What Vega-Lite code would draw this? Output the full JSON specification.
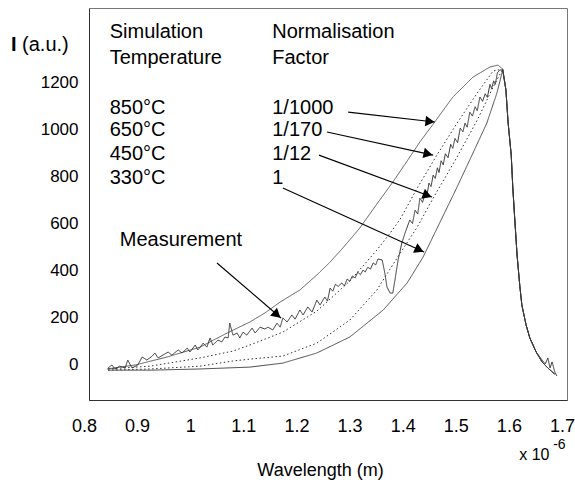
{
  "$schema": "https://vega.github.io/schema/vega-lite/v6.json",
  "width": 478,
  "height": 392,
  "autosize": {"type": "none"},
  "padding": {"left": 89, "top": 8, "right": 8, "bottom": 80},
  "background": "white",
  "config": {"view": {"stroke": "#777", "strokeWidth": 1}, "font": "Liberation Sans"},
  "encoding": {
    "x": {"field": "x", "type": "quantitative",
      "scale": {"domain": [0.8, 1.7], "nice": false, "zero": false},
      "axis": {"values": [0.8, 0.9, 1, 1.1, 1.2, 1.3, 1.4, 1.5, 1.6, 1.7], "format": "~g", "labelOffset": -5,
        "ticks": false, "grid": false, "domainColor": "#333", "labelFontSize": 18, "labelColor": "#000",
        "labelPadding": 17, "labelFlush": false, "labelOverlap": false, "labelBound": false,
        "title": "Wavelength (m)", "titleFontSize": 18, "titleFontWeight": "normal", "titleColor": "#000",
        "titleX": 231, "titleY": 75, "titleBaseline": "alphabetic", "titleAlign": "center"}},
    "y": {"field": "y", "type": "quantitative",
      "scale": {"domain": [-153, 1515], "nice": false, "zero": false},
      "axis": {"values": [0, 200, 400, 600, 800, 1000, 1200], "format": "d", "ticks": false, "grid": false,
        "domainColor": "#333", "labelFontSize": 17, "labelPadding": 11, "labelColor": "#000",
        "labelFlush": false, "labelOverlap": false, "title": null}}
  },
  "layer": [
    {
      "data": {"values": [
        {"s":"850°C","x":0.834,"y":-21},{"s":"850°C","x":0.858,"y":-13},{"s":"850°C","x":0.887,"y":-4},{"s":"850°C","x":0.947,"y":30},{"s":"850°C","x":1.009,"y":72},{"s":"850°C","x":1.060,"y":132},{"s":"850°C","x":1.103,"y":179},{"s":"850°C","x":1.131,"y":217},{"s":"850°C","x":1.160,"y":264},{"s":"850°C","x":1.197,"y":315},{"s":"850°C","x":1.229,"y":379},{"s":"850°C","x":1.254,"y":434},{"s":"850°C","x":1.278,"y":494},{"s":"850°C","x":1.310,"y":579},{"s":"850°C","x":1.342,"y":681},{"s":"850°C","x":1.372,"y":774},{"s":"850°C","x":1.399,"y":864},{"s":"850°C","x":1.423,"y":945},{"s":"850°C","x":1.451,"y":1030},{"s":"850°C","x":1.485,"y":1136},{"s":"850°C","x":1.523,"y":1221},{"s":"850°C","x":1.555,"y":1264},{"s":"850°C","x":1.570,"y":1272},{"s":"850°C","x":1.579,"y":1255},
        {"s":"850°C","x":1.585,"y":1166},{"s":"850°C","x":1.589,"y":1030},{"s":"850°C","x":1.595,"y":889},{"s":"850°C","x":1.598,"y":749},{"s":"850°C","x":1.602,"y":604},{"s":"850°C","x":1.606,"y":464},{"s":"850°C","x":1.611,"y":336},{"s":"850°C","x":1.615,"y":251},{"s":"850°C","x":1.623,"y":166},{"s":"850°C","x":1.630,"y":111},{"s":"850°C","x":1.642,"y":51},{"s":"850°C","x":1.653,"y":9},{"s":"850°C","x":1.664,"y":-17},{"s":"850°C","x":1.677,"y":-43},

        {"s":"650°C","x":0.836,"y":-21},{"s":"650°C","x":0.915,"y":-9},{"s":"650°C","x":1.009,"y":26},{"s":"650°C","x":1.071,"y":55},{"s":"650°C","x":1.103,"y":81},{"s":"650°C","x":1.165,"y":136},{"s":"650°C","x":1.229,"y":225},{"s":"650°C","x":1.291,"y":353},{"s":"650°C","x":1.342,"y":485},{"s":"650°C","x":1.367,"y":557},{"s":"650°C","x":1.386,"y":617},{"s":"650°C","x":1.418,"y":749},{"s":"650°C","x":1.455,"y":889},{"s":"650°C","x":1.493,"y":1025},{"s":"650°C","x":1.531,"y":1153},{"s":"650°C","x":1.561,"y":1247},{"s":"650°C","x":1.579,"y":1255},
        {"s":"650°C","x":1.585,"y":1166},{"s":"650°C","x":1.589,"y":1030},{"s":"650°C","x":1.595,"y":889},{"s":"650°C","x":1.598,"y":749},{"s":"650°C","x":1.602,"y":604},{"s":"650°C","x":1.606,"y":464},{"s":"650°C","x":1.611,"y":336},{"s":"650°C","x":1.615,"y":251},{"s":"650°C","x":1.623,"y":166},{"s":"650°C","x":1.630,"y":111},{"s":"650°C","x":1.642,"y":51},{"s":"650°C","x":1.653,"y":9},{"s":"650°C","x":1.664,"y":-17},{"s":"650°C","x":1.677,"y":-43},

        {"s":"450°C","x":0.836,"y":-26},{"s":"450°C","x":0.915,"y":-21},{"s":"450°C","x":1.009,"y":-9},{"s":"450°C","x":1.071,"y":13},{"s":"450°C","x":1.103,"y":21},{"s":"450°C","x":1.165,"y":34},{"s":"450°C","x":1.229,"y":89},{"s":"450°C","x":1.291,"y":187},{"s":"450°C","x":1.342,"y":315},{"s":"450°C","x":1.380,"y":451},{"s":"450°C","x":1.418,"y":583},{"s":"450°C","x":1.448,"y":706},{"s":"450°C","x":1.493,"y":881},{"s":"450°C","x":1.531,"y":1038},{"s":"450°C","x":1.561,"y":1179},{"s":"450°C","x":1.579,"y":1255},
        {"s":"450°C","x":1.585,"y":1166},{"s":"450°C","x":1.589,"y":1030},{"s":"450°C","x":1.595,"y":889},{"s":"450°C","x":1.598,"y":749},{"s":"450°C","x":1.602,"y":604},{"s":"450°C","x":1.606,"y":464},{"s":"450°C","x":1.611,"y":336},{"s":"450°C","x":1.615,"y":251},{"s":"450°C","x":1.623,"y":166},{"s":"450°C","x":1.630,"y":111},{"s":"450°C","x":1.642,"y":51},{"s":"450°C","x":1.653,"y":9},{"s":"450°C","x":1.664,"y":-17},{"s":"450°C","x":1.677,"y":-43},

        {"s":"330°C","x":0.836,"y":-26},{"s":"330°C","x":0.915,"y":-26},{"s":"330°C","x":1.009,"y":-21},{"s":"330°C","x":1.103,"y":-13},{"s":"330°C","x":1.165,"y":4},{"s":"330°C","x":1.229,"y":47},{"s":"330°C","x":1.291,"y":115},{"s":"330°C","x":1.354,"y":230},{"s":"330°C","x":1.399,"y":345},{"s":"330°C","x":1.429,"y":455},{"s":"330°C","x":1.461,"y":604},{"s":"330°C","x":1.493,"y":753},{"s":"330°C","x":1.523,"y":898},{"s":"330°C","x":1.549,"y":1025},{"s":"330°C","x":1.568,"y":1153},{"s":"330°C","x":1.579,"y":1251},
        {"s":"330°C","x":1.585,"y":1166},{"s":"330°C","x":1.589,"y":1030},{"s":"330°C","x":1.595,"y":889},{"s":"330°C","x":1.598,"y":749},{"s":"330°C","x":1.602,"y":604},{"s":"330°C","x":1.606,"y":464},{"s":"330°C","x":1.611,"y":336},{"s":"330°C","x":1.615,"y":251},{"s":"330°C","x":1.623,"y":166},{"s":"330°C","x":1.630,"y":111},{"s":"330°C","x":1.642,"y":51},{"s":"330°C","x":1.653,"y":9},{"s":"330°C","x":1.664,"y":-17},{"s":"330°C","x":1.677,"y":-43},

        {"s":"Measurement","x":0.836,"y":-17},{"s":"Measurement","x":0.843,"y":-4},{"s":"Measurement","x":0.849,"y":-21},{"s":"Measurement","x":0.858,"y":-9},{"s":"Measurement","x":0.868,"y":-17},{"s":"Measurement","x":0.873,"y":17},{"s":"Measurement","x":0.881,"y":-17},{"s":"Measurement","x":0.892,"y":-4},{"s":"Measurement","x":0.900,"y":30},{"s":"Measurement","x":0.909,"y":17},{"s":"Measurement","x":0.919,"y":34},{"s":"Measurement","x":0.924,"y":47},{"s":"Measurement","x":0.930,"y":26},{"s":"Measurement","x":0.939,"y":38},{"s":"Measurement","x":0.949,"y":51},{"s":"Measurement","x":0.956,"y":38},{"s":"Measurement","x":0.968,"y":60},{"s":"Measurement","x":0.975,"y":47},{"s":"Measurement","x":0.985,"y":68},{"s":"Measurement","x":0.990,"y":51},{"s":"Measurement","x":1.000,"y":81},{"s":"Measurement","x":1.005,"y":60},{"s":"Measurement","x":1.015,"y":89},{"s":"Measurement","x":1.022,"y":72},{"s":"Measurement","x":1.028,"y":111},{"s":"Measurement","x":1.033,"y":81},{"s":"Measurement","x":1.043,"y":102},{"s":"Measurement","x":1.050,"y":94},{"s":"Measurement","x":1.056,"y":115},{"s":"Measurement","x":1.062,"y":111},{"s":"Measurement","x":1.065,"y":174},{"s":"Measurement","x":1.071,"y":123},{"s":"Measurement","x":1.079,"y":132},{"s":"Measurement","x":1.084,"y":111},{"s":"Measurement","x":1.090,"y":136},{"s":"Measurement","x":1.097,"y":123},{"s":"Measurement","x":1.107,"y":153},{"s":"Measurement","x":1.113,"y":132},{"s":"Measurement","x":1.122,"y":157},{"s":"Measurement","x":1.131,"y":149},{"s":"Measurement","x":1.137,"y":157},{"s":"Measurement","x":1.146,"y":145},{"s":"Measurement","x":1.154,"y":174},{"s":"Measurement","x":1.160,"y":157},{"s":"Measurement","x":1.165,"y":196},{"s":"Measurement","x":1.173,"y":179},{"s":"Measurement","x":1.182,"y":209},{"s":"Measurement","x":1.188,"y":191},{"s":"Measurement","x":1.197,"y":230},{"s":"Measurement","x":1.203,"y":209},{"s":"Measurement","x":1.212,"y":243},{"s":"Measurement","x":1.220,"y":221},{"s":"Measurement","x":1.229,"y":272},{"s":"Measurement","x":1.235,"y":251},{"s":"Measurement","x":1.244,"y":285},{"s":"Measurement","x":1.249,"y":268},{"s":"Measurement","x":1.254,"y":323},{"s":"Measurement","x":1.259,"y":310},{"s":"Measurement","x":1.264,"y":340},{"s":"Measurement","x":1.269,"y":330},{"s":"Measurement","x":1.276,"y":345},{"s":"Measurement","x":1.281,"y":332},{"s":"Measurement","x":1.286,"y":362},{"s":"Measurement","x":1.291,"y":352},{"s":"Measurement","x":1.296,"y":375},{"s":"Measurement","x":1.301,"y":366},{"s":"Measurement","x":1.306,"y":391},{"s":"Measurement","x":1.311,"y":380},{"s":"Measurement","x":1.316,"y":400},{"s":"Measurement","x":1.320,"y":392},{"s":"Measurement","x":1.325,"y":412},{"s":"Measurement","x":1.330,"y":404},{"s":"Measurement","x":1.335,"y":430},{"s":"Measurement","x":1.340,"y":422},{"s":"Measurement","x":1.344,"y":447},{"s":"Measurement","x":1.352,"y":443},{"s":"Measurement","x":1.357,"y":387},{"s":"Measurement","x":1.361,"y":328},{"s":"Measurement","x":1.367,"y":302},{"s":"Measurement","x":1.372,"y":302},{"s":"Measurement","x":1.376,"y":357},{"s":"Measurement","x":1.382,"y":443},{"s":"Measurement","x":1.389,"y":515},{"s":"Measurement","x":1.395,"y":557},{"s":"Measurement","x":1.404,"y":613},{"s":"Measurement","x":1.409,"y":598},{"s":"Measurement","x":1.414,"y":655},{"s":"Measurement","x":1.419,"y":638},{"s":"Measurement","x":1.423,"y":706},{"s":"Measurement","x":1.428,"y":688},{"s":"Measurement","x":1.433,"y":728},{"s":"Measurement","x":1.436,"y":712},{"s":"Measurement","x":1.440,"y":770},{"s":"Measurement","x":1.444,"y":755},{"s":"Measurement","x":1.448,"y":804},{"s":"Measurement","x":1.452,"y":790},{"s":"Measurement","x":1.456,"y":835},{"s":"Measurement","x":1.459,"y":815},{"s":"Measurement","x":1.463,"y":865},{"s":"Measurement","x":1.467,"y":848},{"s":"Measurement","x":1.471,"y":895},{"s":"Measurement","x":1.476,"y":878},{"s":"Measurement","x":1.481,"y":935},{"s":"Measurement","x":1.485,"y":918},{"s":"Measurement","x":1.489,"y":960},{"s":"Measurement","x":1.494,"y":942},{"s":"Measurement","x":1.499,"y":1004},{"s":"Measurement","x":1.504,"y":988},{"s":"Measurement","x":1.508,"y":1025},{"s":"Measurement","x":1.512,"y":1008},{"s":"Measurement","x":1.517,"y":1072},{"s":"Measurement","x":1.522,"y":1055},{"s":"Measurement","x":1.527,"y":1095},{"s":"Measurement","x":1.531,"y":1078},{"s":"Measurement","x":1.536,"y":1136},{"s":"Measurement","x":1.541,"y":1118},{"s":"Measurement","x":1.546,"y":1150},{"s":"Measurement","x":1.550,"y":1135},{"s":"Measurement","x":1.555,"y":1190},{"s":"Measurement","x":1.558,"y":1172},{"s":"Measurement","x":1.562,"y":1205},{"s":"Measurement","x":1.565,"y":1190},{"s":"Measurement","x":1.569,"y":1240},{"s":"Measurement","x":1.574,"y":1251},{"s":"Measurement","x":1.579,"y":1251},
        {"s":"Measurement","x":1.585,"y":1166},{"s":"Measurement","x":1.589,"y":1030},{"s":"Measurement","x":1.595,"y":889},{"s":"Measurement","x":1.598,"y":749},{"s":"Measurement","x":1.602,"y":604},{"s":"Measurement","x":1.606,"y":464},{"s":"Measurement","x":1.611,"y":336},{"s":"Measurement","x":1.615,"y":251},{"s":"Measurement","x":1.623,"y":166},{"s":"Measurement","x":1.630,"y":111},{"s":"Measurement","x":1.642,"y":51},{"s":"Measurement","x":1.653,"y":17},{"s":"Measurement","x":1.659,"y":0},{"s":"Measurement","x":1.664,"y":26},{"s":"Measurement","x":1.668,"y":-17},{"s":"Measurement","x":1.672,"y":9},{"s":"Measurement","x":1.677,"y":-34},{"s":"Measurement","x":1.681,"y":-51}
      ]},
      "mark": {"type": "line", "strokeWidth": 1, "interpolate": "linear"},
      "encoding": {
        "color": {"field": "s", "type": "nominal", "legend": null,
          "scale": {"domain": ["850°C", "650°C", "450°C", "330°C", "Measurement"], "range": ["#5a5a5a", "#333333", "#333333", "#4a4a4a", "#333333"]}},
        "strokeDash": {"field": "s", "type": "nominal", "legend": null,
          "scale": {"domain": ["850°C", "650°C", "450°C", "330°C", "Measurement"], "range": [[1, 0], [1.5, 2.5], [1.5, 2.5], [1, 0], [1, 0]]}}
      }
    },
    {
      "data": {"values": [
        {"x": 1.288, "y": 1072, "x2": 1.451, "y2": 1030},
        {"x": 1.248, "y": 987, "x2": 1.448, "y2": 889},
        {"x": 1.233, "y": 889, "x2": 1.446, "y2": 711},
        {"x": 1.165, "y": 749, "x2": 1.431, "y2": 477},
        {"x": 1.041, "y": 430, "x2": 1.1615, "y2": 196}
      ]},
      "mark": {"type": "rule", "color": "#000", "strokeWidth": 1.1},
      "encoding": {"x2": {"field": "x2"}, "y2": {"field": "y2"}}
    },
    {"data": {"values": [{"x": 1.442, "y": 1032}]}, "mark": {"type": "point", "shape": "triangle-right", "filled": true, "color": "#000", "opacity": 1, "size": 110, "angle": 6.6}},
    {"data": {"values": [{"x": 1.4385, "y": 894}]}, "mark": {"type": "point", "shape": "triangle-right", "filled": true, "color": "#000", "opacity": 1, "size": 110, "angle": 12.2}},
    {"data": {"values": [{"x": 1.437, "y": 718}]}, "mark": {"type": "point", "shape": "triangle-right", "filled": true, "color": "#000", "opacity": 1, "size": 110, "angle": 20.4}},
    {"data": {"values": [{"x": 1.422, "y": 486}]}, "mark": {"type": "point", "shape": "triangle-right", "filled": true, "color": "#000", "opacity": 1, "size": 110, "angle": 24.4}},
    {"data": {"values": [{"x": 1.154, "y": 210}]}, "mark": {"type": "point", "shape": "triangle-right", "filled": true, "color": "#000", "opacity": 1, "size": 110, "angle": 40.7}},
    {
      "data": {"values": [
        {"t": "Simulation", "x": 0.839, "y": 1413},
        {"t": "Temperature", "x": 0.839, "y": 1302},
        {"t": "850°C", "x": 0.839, "y": 1089},
        {"t": "650°C", "x": 0.839, "y": 996},
        {"t": "450°C", "x": 0.839, "y": 894},
        {"t": "330°C", "x": 0.839, "y": 791},
        {"t": "Normalisation", "x": 1.145, "y": 1413},
        {"t": "Factor", "x": 1.145, "y": 1302},
        {"t": "1/1000", "x": 1.145, "y": 1089},
        {"t": "1/170", "x": 1.145, "y": 996},
        {"t": "1/12", "x": 1.145, "y": 894},
        {"t": "1", "x": 1.145, "y": 791},
        {"t": "Measurement", "x": 0.858, "y": 528},
        {"t": "(a.u.)", "x": 0.674, "y": 1357}
      ]},
      "mark": {"type": "text", "align": "left", "baseline": "middle", "fontSize": 20, "font": "Liberation Sans", "color": "#000"},
      "encoding": {"text": {"field": "t"}}
    },
    {
      "data": {"values": [{"t": "I", "x": 0.653, "y": 1357}]},
      "mark": {"type": "text", "align": "left", "baseline": "middle", "fontSize": 20, "fontWeight": "bold", "font": "Liberation Sans", "color": "#000"},
      "encoding": {"text": {"field": "t"}}
    },
    {
      "data": {"values": [{"t": "x 10", "x": 1.610, "y": -387}]},
      "mark": {"type": "text", "align": "left", "baseline": "middle", "fontSize": 16, "font": "Liberation Sans", "color": "#000"},
      "encoding": {"text": {"field": "t"}}
    },
    {
      "data": {"values": [{"t": "-6", "x": 1.674, "y": -345}]},
      "mark": {"type": "text", "align": "left", "baseline": "middle", "fontSize": 14, "font": "Liberation Sans", "color": "#000"},
      "encoding": {"text": {"field": "t"}}
    }
  ]
}
